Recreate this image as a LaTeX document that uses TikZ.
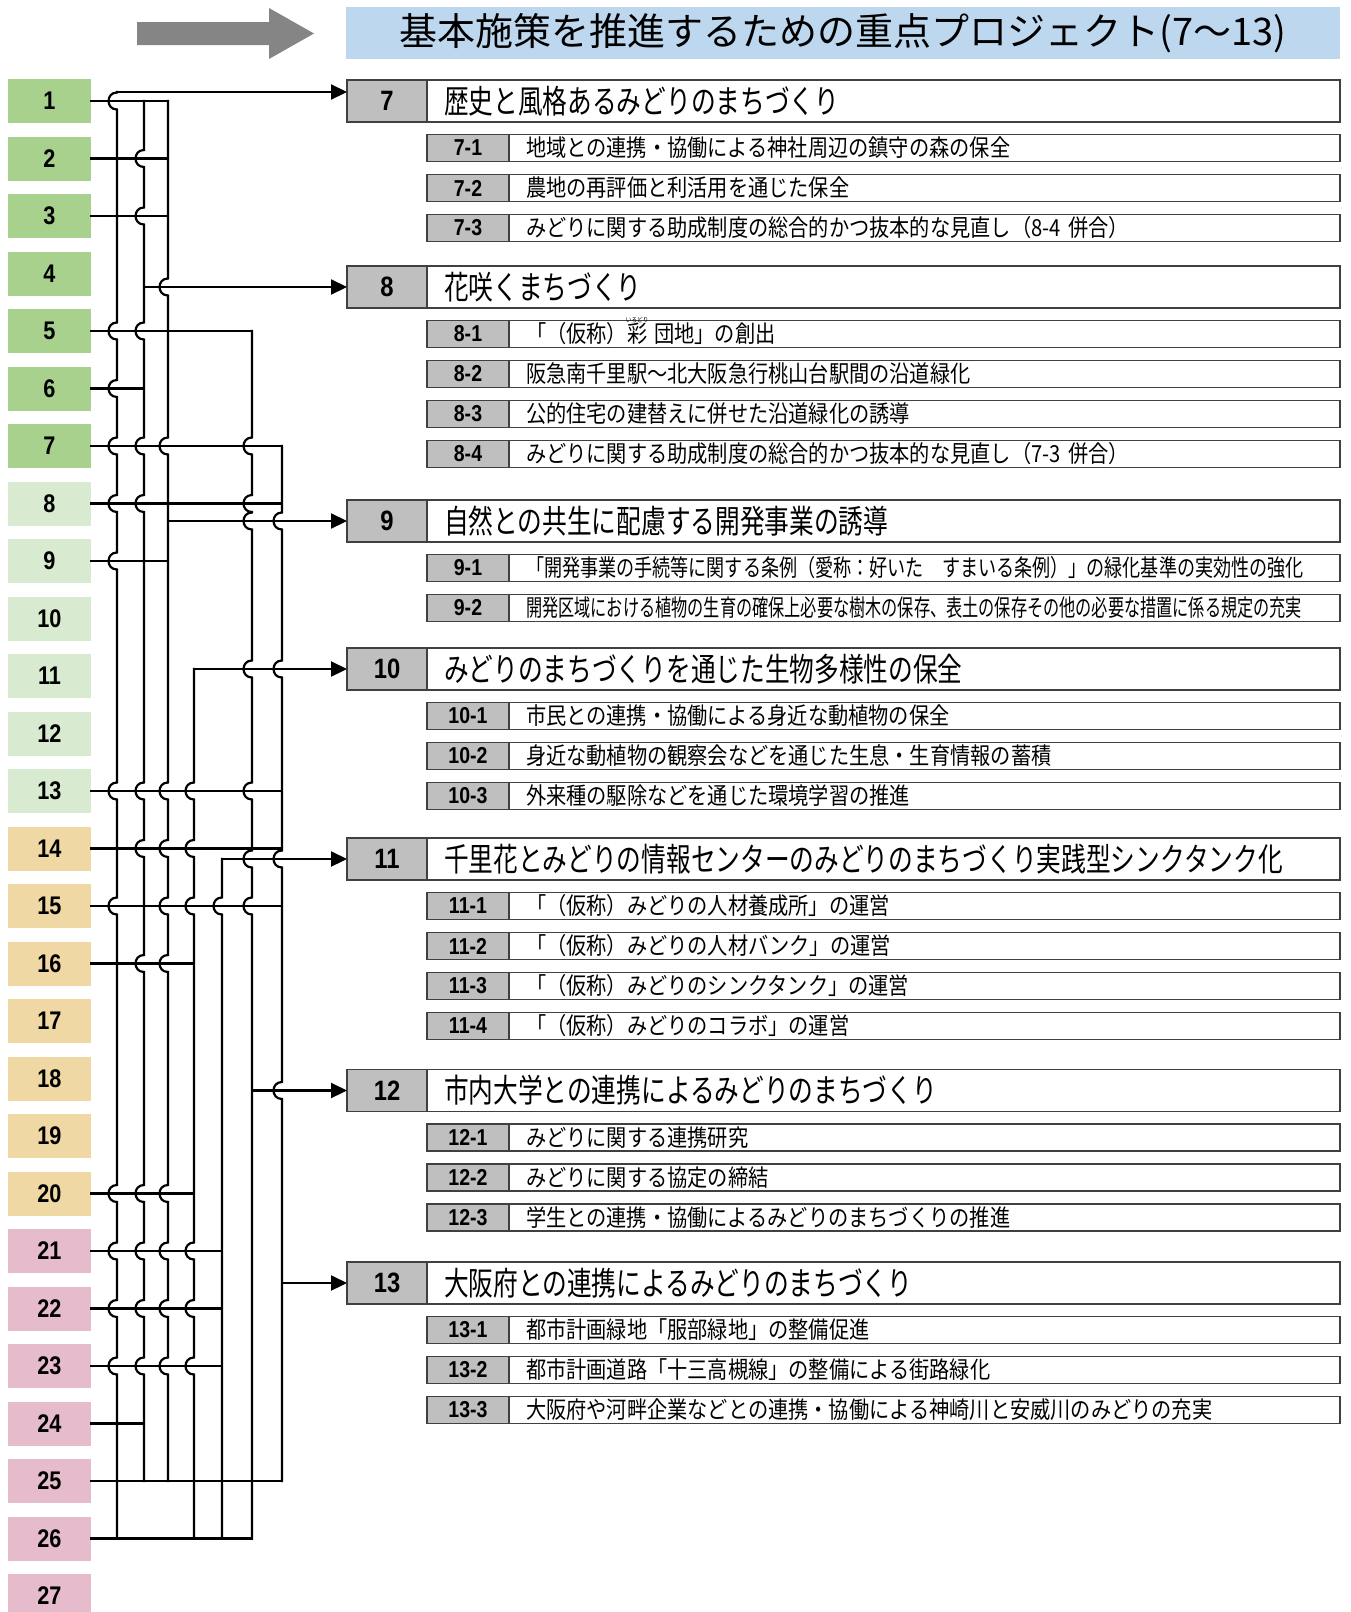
\documentclass[tikz,border=0pt]{standalone}
\usepackage{fontspec}
\usepackage{graphicx}
\usetikzlibrary{positioning, arrows.meta, calc}
\newfontfamily\jptitle{Noto Sans CJK JP}
\newfontfamily\jphead[FakeStretch=0.76]{Noto Sans CJK JP}
\newfontfamily\jpsub[FakeStretch=0.86]{Noto Sans CJK JP}
\newfontfamily\numfont[FakeStretch=0.85]{Liberation Sans}
\definecolor{grpA}{HTML}{A9D18E}
\definecolor{grpB}{HTML}{D8EBD0}
\definecolor{grpC}{HTML}{EFD8A3}
\definecolor{grpD}{HTML}{E6BBCB}
\definecolor{cellgray}{HTML}{BFBFBF}
\definecolor{titleblue}{HTML}{BDD7EE}
\definecolor{framegray}{HTML}{404040}
\definecolor{arrowgray}{HTML}{858585}

% vertical bus, hopping over the lines it does not join
\newcommand{\busline}[4]{%
  \draw[bus] (#1,#2) foreach \h in {#4} {
      -- (#1,\h-8.5) .. controls (#1-11.3,\h-8.5) and (#1-11.3,\h+8.5) .. (#1,\h+8.5)}
    -- (#1,#3);}
% small reading above a kanji
\newcommand{\furigana}[2]{\leavevmode\setbox0\hbox{#1}%
  \rlap{\smash{\raisebox{\dimexpr\ht0+1pt\relax}{\makebox[\wd0][c]{\fontsize{6.5}{7}\selectfont #2}}}}\box0}

\begin{document}
\begin{tikzpicture}[x=1pt, y=-1pt,
    every node/.style={inner sep=0pt, outer sep=0pt},
    numbox/.style={fill=#1, minimum width=83pt, minimum height=44pt,
                   font={\numfont\bfseries\fontsize{25.5}{25.5}\selectfont}},
    cell/.style={draw=framegray, line width=1.4pt},
    pnum/.style={cell, fill=cellgray, minimum width=80pt, minimum height=42pt,
                 font={\numfont\bfseries\fontsize{28}{28}\selectfont}},
    ptext/.style={cell, fill=white, minimum height=42pt, text width=879pt,
                  inner xsep=17pt, align=left,
                  font={\jphead\fontsize{32.5}{36}\selectfont}},
    snum/.style={cell, fill=cellgray, minimum width=82pt, minimum height=27pt,
                 font={\numfont\bfseries\fontsize{23}{23}\selectfont}},
    stext/.style={cell, fill=white, minimum height=27pt, text width=797pt,
                  inner xsep=17pt, align=left,
                  font={\jpsub\fontsize{23.5}{25}\selectfont}},
    bus/.style={line width=2.2pt, line cap=rect},
    arr/.style={-{Triangle[length=16pt, width=15pt]}, line cap=butt},
  ]
  \useasboundingbox (0,0) rectangle (1351,1612);

  % Heading
  \fill[arrowgray] (137,22) -- (269,22) -- (269,8) -- (314,33.5)
    -- (269,59) -- (269,45) -- (137,45) -- cycle;
  \node[fill=titleblue, minimum width=994pt, minimum height=52pt,
        font={\jptitle\fontsize{38}{40}\selectfont}] (title) at (843,33)
    {基本施策を推進するための重点プロジェクト(7〜13)};

  % Numbered boxes
  \foreach \i in {1,...,7}   \node[numbox=grpA] (b\i) at (49.5,{101+(\i-1)*57.5}) {\i};
  \foreach \i in {8,...,13}  \node[numbox=grpB] (b\i) at (49.5,{101+(\i-1)*57.5}) {\i};
  \foreach \i in {14,...,20} \node[numbox=grpC] (b\i) at (49.5,{101+(\i-1)*57.5}) {\i};
  \foreach \i in {21,...,27} \node[numbox=grpD] (b\i) at (49.5,{101+(\i-1)*57.5}) {\i};

  % Projects
  \node[pnum] (p7) at (387,101) {7};
  \node[ptext, right=0pt of p7] (t7) {歴史と風格あるみどりのまちづくり};
  \node[snum] (s71) at (468,148) {7-1};
  \node[stext, right=0pt of s71] {地域との連携・協働による神社周辺の鎮守の森の保全};
  \node[snum] (s72) at (468,188) {7-2};
  \node[stext, right=0pt of s72] {農地の再評価と利活用を通じた保全};
  \node[snum] (s73) at (468,228) {7-3};
  \node[stext, right=0pt of s73] {みどりに関する助成制度の総合的かつ抜本的な見直し（8-4 併合）};

  \node[pnum] (p8) at (387,287) {8};
  \node[ptext, right=0pt of p8] (t8) {花咲くまちづくり};
  \node[snum] (s81) at (468,334) {8-1};
  \node[stext, right=0pt of s81] {「（仮称）\furigana{彩}{いろどり}\hspace{7pt}団地」の創出};
  \node[snum] (s82) at (468,374) {8-2};
  \node[stext, right=0pt of s82] {阪急南千里駅〜北大阪急行桃山台駅間の沿道緑化};
  \node[snum] (s83) at (468,414) {8-3};
  \node[stext, right=0pt of s83] {公的住宅の建替えに併せた沿道緑化の誘導};
  \node[snum] (s84) at (468,454) {8-4};
  \node[stext, right=0pt of s84] {みどりに関する助成制度の総合的かつ抜本的な見直し（7-3 併合）};

  \node[pnum] (p9) at (387,521) {9};
  \node[ptext, right=0pt of p9] (t9) {自然との共生に配慮する開発事業の誘導};
  \node[snum] (s91) at (468,568) {9-1};
  \node[stext, right=0pt of s91] {\scalebox{0.895}[1]{「開発事業の手続等に関する条例（愛称：好いた　すまいる条例）」の緑化基準の実効性の強化}};
  \node[snum] (s92) at (468,608) {9-2};
  \node[stext, right=0pt of s92] {\scalebox{0.80}[1]{開発区域における植物の生育の確保上必要な樹木の保存、表土の保存その他の必要な措置に係る規定の充実}};

  \node[pnum] (p10) at (387,669) {10};
  \node[ptext, right=0pt of p10] (t10) {みどりのまちづくりを通じた生物多様性の保全};
  \node[snum] (s101) at (468,716) {10-1};
  \node[stext, right=0pt of s101] {市民との連携・協働による身近な動植物の保全};
  \node[snum] (s102) at (468,756) {10-2};
  \node[stext, right=0pt of s102] {身近な動植物の観察会などを通じた生息・生育情報の蓄積};
  \node[snum] (s103) at (468,796) {10-3};
  \node[stext, right=0pt of s103] {外来種の駆除などを通じた環境学習の推進};

  \node[pnum] (p11) at (387,859) {11};
  \node[ptext, right=0pt of p11] (t11) {千里花とみどりの情報センターのみどりのまちづくり実践型シンクタンク化};
  \node[snum] (s111) at (468,906) {11-1};
  \node[stext, right=0pt of s111] {「（仮称）みどりの人材養成所」の運営};
  \node[snum] (s112) at (468,946) {11-2};
  \node[stext, right=0pt of s112] {「（仮称）みどりの人材バンク」の運営};
  \node[snum] (s113) at (468,986) {11-3};
  \node[stext, right=0pt of s113] {「（仮称）みどりのシンクタンク」の運営};
  \node[snum] (s114) at (468,1026) {11-4};
  \node[stext, right=0pt of s114] {「（仮称）みどりのコラボ」の運営};

  \node[pnum] (p12) at (387,1090.5) {12};
  \node[ptext, right=0pt of p12] (t12) {市内大学との連携によるみどりのまちづくり};
  \node[snum] (s121) at (468,1137.5) {12-1};
  \node[stext, right=0pt of s121] {みどりに関する連携研究};
  \node[snum] (s122) at (468,1177.5) {12-2};
  \node[stext, right=0pt of s122] {みどりに関する協定の締結};
  \node[snum] (s123) at (468,1217.5) {12-3};
  \node[stext, right=0pt of s123] {学生との連携・協働によるみどりのまちづくりの推進};

  \node[pnum] (p13) at (387,1283) {13};
  \node[ptext, right=0pt of p13] (t13) {大阪府との連携によるみどりのまちづくり};
  \node[snum] (s131) at (468,1330) {13-1};
  \node[stext, right=0pt of s131] {都市計画緑地「服部緑地」の整備促進};
  \node[snum] (s132) at (468,1370) {13-2};
  \node[stext, right=0pt of s132] {都市計画道路「十三高槻線」の整備による街路緑化};
  \node[snum] (s133) at (468,1410) {13-3};
  \node[stext, right=0pt of s133] {大阪府や河畔企業などとの連携・協働による神崎川と安威川のみどりの充実};

  % Bus positions
  \coordinate (v1) at (117,0);
  \coordinate (v2) at (144,0);
  \coordinate (v3) at (168,0);
  \coordinate (v4) at (194,0);
  \coordinate (v5) at (222,0);
  \coordinate (v6) at (252,0);
  \coordinate (v7) at (282,0);

  % Feed lines from the numbered boxes
  \foreach \b/\v in {1/3,2/3,3/3,5/6,6/2,7/7,8/7,9/3,13/7,14/7,15/7,16/4,
                     20/4,21/5,22/5,23/5,24/2,25/7,26/6}
    \draw[bus] (b\b.east) -- (b\b.east -| v\v);

  % Buses
  \busline{117}{92}{1538.5}{101,331,388.5,446,503.5,561,791,906,1193.5,1251,1308.5,1366}
  \busline{144}{101}{1481}{158.5,216,331,446,503.5,791,848.5,963.5,1193.5,1251,1308.5,1366}
  \busline{168}{101}{1481}{287,446,791,848.5,906,963.5,1193.5,1251,1308.5,1366}
  \busline{194}{669}{1538.5}{791,848.5,906,1251,1308.5,1366}
  \busline{222}{859}{1538.5}{906}
  \busline{252}{331}{1538.5}{446,503.5,521,669,791,859,906}
  \busline{282}{446}{1481}{521,669,859,1090.5}

  % Arrows into the projects
  \coordinate (a7) at (117,92);
  \draw[bus, arr] (a7) -- (a7 -| p7.west);
  \draw[bus, arr] (v2 |- p8.west) -- (p8.west);
  \draw[bus, arr] (v3 |- p9.west) -- (p9.west);
  \draw[bus, arr] (v4 |- p10.west) -- (p10.west);
  \draw[bus, arr] (v5 |- p11.west) -- (p11.west);
  \draw[bus, arr] (v6 |- p12.west) -- (p12.west);
  \draw[bus, arr] (v7 |- p13.west) -- (p13.west);
\end{tikzpicture}
\end{document}
